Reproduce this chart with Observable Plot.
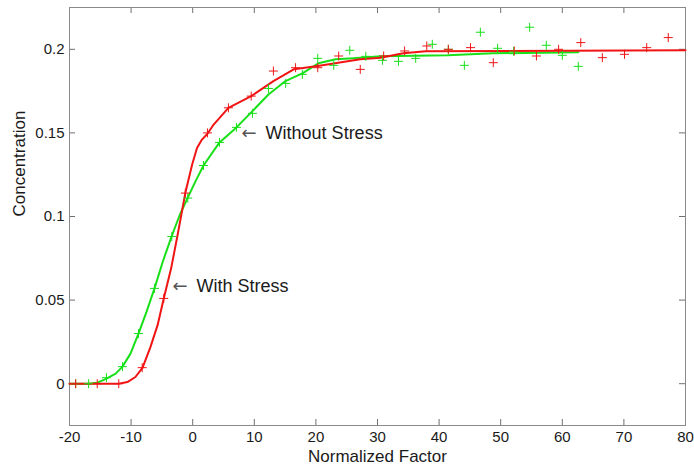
<!DOCTYPE html>
<html>
<head>
<meta charset="utf-8">
<script src="https://cdn.jsdelivr.net/npm/d3@7"></script>
<script src="https://cdn.jsdelivr.net/npm/@observablehq/plot@0.6"></script>
<style>
  html, body { margin: 0; padding: 0; background: #fff; }
  #chart svg { display: block; }
</style>
</head>
<body>
<div id="chart"></div>
<script>
// Axis ticks
const xTicks = [-20, -10, 0, 10, 20, 30, 40, 50, 60, 70, 80];
const yTicks = [0, 0.05, 0.1, 0.15, 0.2];

// "With Stress" (red) measured points
const withStressPtsX = [-19.0, -15.5, -12.0, -8.2, -4.7, -1.2, 2.4, 5.8, 9.5, 13.1, 16.7, 20.3, 23.7, 27.2, 31.0, 34.4, 38.0, 41.5, 45.1, 48.8, 52.2, 55.8, 59.4, 63.0, 66.5, 70.1, 73.7, 77.2];
const withStressPtsY = [0, 0, 0, 0.0096, 0.051, 0.114, 0.150, 0.165, 0.172, 0.187, 0.189, 0.189, 0.196, 0.188, 0.196, 0.199, 0.202, 0.200, 0.201, 0.192, 0.199, 0.196, 0.200, 0.204, 0.195, 0.197, 0.201, 0.207];

// "With Stress" (red) fitted curve
const withStressFitX = [-20, -12, -10.6, -9.3, -8.15, -6.85, -5.7, -4.7, -3.5, -2.4, -1.2, -0.1, 0.7, 1.5, 2.4, 3.4, 5.8, 9.5, 13.1, 16.4, 20.3, 27.2, 30.5, 34.2, 37.8, 80];
const withStressFitY = [0, 0, 0.001, 0.004, 0.0095, 0.022, 0.035, 0.051, 0.069, 0.090, 0.114, 0.131, 0.141, 0.146, 0.1495, 0.155, 0.165, 0.172, 0.181, 0.188, 0.190, 0.194, 0.195, 0.1976, 0.1988, 0.1994];

// "Without Stress" (green) measured points
const withoutStressPtsX = [-19.0, -16.9, -14.0, -11.4, -8.8, -6.2, -3.4, -0.8, 1.75, 4.35, 7.1, 9.7, 12.3, 15.1, 17.8, 20.3, 22.9, 25.5, 28.1, 30.8, 33.4, 36.2, 38.9, 41.5, 44.1, 46.7, 49.5, 52.1, 54.7, 57.4, 60.0, 62.6];
const withoutStressPtsY = [0, 0, 0.0036, 0.0102, 0.030, 0.057, 0.088, 0.111, 0.1305, 0.1443, 0.1533, 0.1617, 0.1766, 0.1796, 0.185, 0.1946, 0.1904, 0.1994, 0.1958, 0.1934, 0.1928, 0.1946, 0.203, 0.200, 0.1904, 0.2102, 0.2006, 0.1988, 0.2132, 0.2024, 0.1964, 0.1898];

// "Without Stress" (green) fitted curve
const withoutStressFitX = [-20, -16.9, -15.45, -14, -12.5, -11.4, -10.1, -8.8, -7.5, -6.2, -4.9, -3.44, -2.14, -0.84, 0.45, 1.75, 4.35, 7.11, 9.7, 12.3, 15.06, 17.8, 20.4, 23.2, 26.1, 30.5, 41.4, 48.8, 62.6];
const withoutStressFitY = [0, 0, 0.0006, 0.003, 0.006, 0.0102, 0.018, 0.030, 0.043, 0.057, 0.0725, 0.088, 0.1006, 0.111, 0.121, 0.1305, 0.1443, 0.1533, 0.163, 0.173, 0.181, 0.1856, 0.1916, 0.194, 0.1946, 0.1958, 0.1964, 0.1976, 0.1982];

// Annotations (arrow tip positions)
const annoLabels = ["Without Stress", "With Stress"];
const annoX = [8.1, -3.1];
const annoY = [0.150, 0.0584];

const xLabel = "Normalized Factor";
const yLabel = "Concentration";

const xDomain = [-20, 80];
const yDomain = [-0.025, 0.225];

const RED = "#f01414";
const GREEN = "#18e018";
const GRAY = "#8a8a8a";
const TICKGRAY = "#707070";

const W = 694, H = 472, ML = 69, MR = 9, MT = 7, MB = 47;
const innerW = W - ML - MR, innerH = H - MT - MB, TICK = 6;
// tick length converted from pixels into each scale's units
const tickLenX = (xDomain[1] - xDomain[0]) * TICK / innerW;
const tickLenY = (yDomain[1] - yDomain[0]) * TICK / innerH;

const zip = (xs, ys) => xs.map((x, i) => ({x, y: ys[i]}));
const redPts = zip(withStressPtsX, withStressPtsY);
const redFit = zip(withStressFitX, withStressFitY);
const greenPts = zip(withoutStressPtsX, withoutStressPtsY);
const greenFit = zip(withoutStressFitX, withoutStressFitY);
const annos = annoLabels.map((t, i) => ({t, x: annoX[i], y: annoY[i]}));

const chart = Plot.plot({
  width: W,
  height: H,
  marginLeft: ML,
  marginRight: MR,
  marginTop: MT,
  marginBottom: MB,
  style: {fontFamily: "'Liberation Sans', Arial, sans-serif", fontSize: "15px", color: "#1a1a1a", background: "#fff"},
  x: {domain: xDomain},
  y: {domain: yDomain},
  marks: [
    // inward ticks on all four sides
    Plot.ruleX(xTicks, {x: d => d, y1: yDomain[0], y2: yDomain[0] + tickLenY, stroke: TICKGRAY}),
    Plot.ruleX(xTicks, {x: d => d, y1: yDomain[1] - tickLenY, y2: yDomain[1], stroke: TICKGRAY}),
    Plot.ruleY(yTicks, {y: d => d, x1: xDomain[0], x2: xDomain[0] + tickLenX, stroke: TICKGRAY}),
    Plot.ruleY(yTicks, {y: d => d, x1: xDomain[1] - tickLenX, x2: xDomain[1], stroke: TICKGRAY}),
    Plot.frame({stroke: GRAY}),
    // tick labels
    Plot.axisX({anchor: "bottom", ticks: xTicks, tickSize: 0, tickPadding: 6, label: null, tickFormat: d => String(d)}),
    Plot.axisY({anchor: "left", ticks: yTicks, tickSize: 0, tickPadding: 5, label: null, tickFormat: d => String(d)}),
    // fitted curves
    Plot.line(greenFit, {x: "x", y: "y", stroke: GREEN, strokeWidth: 2}),
    Plot.line(redFit, {x: "x", y: "y", stroke: RED, strokeWidth: 2}),
    // data points
    Plot.dot(greenPts, {x: "x", y: "y", symbol: "plus", r: 3, stroke: GREEN, strokeWidth: 1}),
    Plot.dot(redPts, {x: "x", y: "y", symbol: "plus", r: 3, stroke: RED, strokeWidth: 1}),
    // annotations
    Plot.text(annos, {x: "x", y: "y", text: () => "\u2190", textAnchor: "start", fill: "#555", fontSize: 18, fontFamily: "'DejaVu Sans', sans-serif", dx: -1}),
    Plot.text(annos, {x: "x", y: "y", text: "t", textAnchor: "start", fill: "#1a1a1a", fontSize: 18, dx: 23}),
    // axis titles
    Plot.text([xLabel], {frameAnchor: "bottom", dy: 31, fontSize: 17, fill: "#1a1a1a", lineAnchor: "middle"}),
    Plot.text([yLabel], {frameAnchor: "left", dx: -50, rotate: -90, fontSize: 17, fill: "#1a1a1a", lineAnchor: "middle"})
  ]
});

document.getElementById("chart").appendChild(chart);
</script>
</body>
</html>
